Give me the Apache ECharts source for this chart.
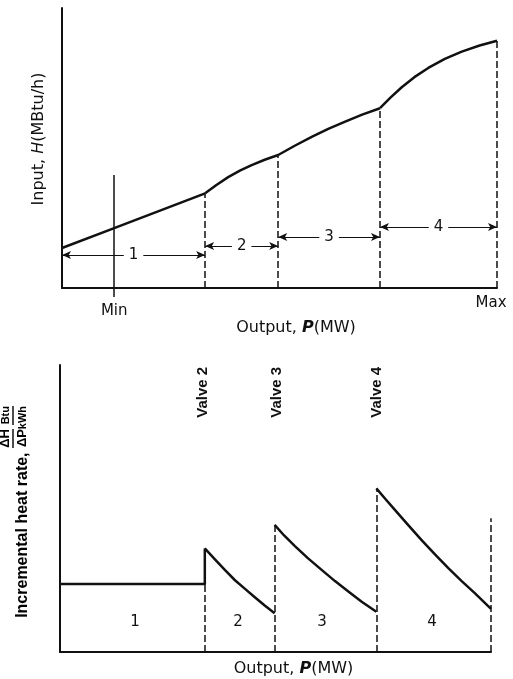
<!DOCTYPE html>
<html>
<head>
<meta charset="utf-8">
<script src="https://cdn.jsdelivr.net/npm/echarts@6/dist/echarts.min.js"></script>
<style>
  html, body { margin:0; padding:0; background:#fff; }
  #chart { width:513px; height:679px; }
</style>
</head>
<body>
<div id="chart"></div>
<script>
// ====== 上圖：輸入-輸出曲線 (P, H) ======
const topSeg1 = [[0,14.3],[12,21.4],[32.9,33.8]];
const topSeg2 = [[32.9,33.8],[35.5,36.8],[38.2,39.6],[41.0,42.0],[43.6,43.9],[46.6,45.8],[49.7,47.5]];
const topSeg3 = [[49.7,47.5],[53.5,50.8],[57.4,54.0],[61.2,56.8],[65.1,59.4],[69.0,61.9],[73.1,64.2]];
const topSeg4 = [[73.1,64.2],[75.5,68.0],[78.1,71.7],[81.0,75.3],[84.2,78.6],[88.0,81.8],[91.9,84.4],[96.0,86.6],[100,88.3]];
const topDash = [[32.9,33.8],[49.7,47.5],[73.1,64.2],[100,88.3]];
const minP = 12, minTop = 40.4;
const spanNames = ['1','2','3','4'];
const spanFrom  = [0, 32.9, 49.7, 73.1];
const spanTo    = [32.9, 49.7, 73.1, 100];
const spanLevel = [11.8, 15.0, 18.2, 21.8];

// ====== 下圖：增量熱率 ======
const botSeg1 = [[0,23.7],[33.6,23.7],[33.6,36.1]];
const botSeg2 = [[33.6,36.1],[36.0,32.2],[38.3,28.5],[40.6,25.0],[43.0,21.9],[45.2,19.1],[47.5,16.2],[49.8,13.5]];
const botSeg3 = [[49.8,44.3],[52.0,40.6],[54.5,36.9],[57.5,32.7],[60.7,28.6],[63.8,24.7],[66.9,21.1],[70.0,17.5],[73.4,14.0]];
const botSeg4 = [[73.4,57.0],[75.5,53.3],[77.7,49.5],[80.8,44.2],[83.9,39.0],[87.0,34.0],[90.1,29.2],[93.2,24.7],[96.3,20.4],[100,15.0]];
const botDash = [[33.6,23.7],[49.8,44.3],[73.4,57.0],[100,46.6]];
const valveNames = ['Valve 2','Valve 3','Valve 4'];
const valveP = [33.2, 50.3, 73.5];
const valveLevel = 90.5;
const blockNames = ['1','2','3','4'];
const blockP = [17.4, 41.3, 60.8, 86.3];
const blockLevel = 10.5;

// ====== 小工具 ======
const INK = '#111';
const FONT = 'DejaVu Sans';
const NARROW = 'Liberation Sans';

function curve(data, xi){
  return {
    type:'line', xAxisIndex:xi, yAxisIndex:xi, data,
    smooth:false, showSymbol:false, silent:true,
    lineStyle:{ color:INK, width:2.5, join:'round' }
  };
}
function dashLines(points){
  return points.map(([x,y]) => [{ coord:[x,0] }, { coord:[x,y] }]);
}

const topCurves = [topSeg1, topSeg2, topSeg3, topSeg4].map(s => curve(s, 0));
topCurves[0].markLine = {
  silent:true, symbol:'none', animation:false,
  label:{ show:false },
  lineStyle:{ color:INK, width:1.5, type:[7,3] },
  data: dashLines(topDash).concat([[
    { coord:[minP,0], lineStyle:{ type:'solid', width:1.5 } },
    { coord:[minP,minTop] }
  ]])
};
topCurves[1].markLine = {
  silent:true, animation:false,
  symbol:['arrow','arrow'], symbolSize:[6,9],
  lineStyle:{ color:INK, width:1, type:'solid' },
  label:{ show:false },
  data: spanNames.map((n,i) => [
    { coord:[spanFrom[i], spanLevel[i]] },
    { coord:[spanTo[i], spanLevel[i]] }
  ])
};

const botCurves = [botSeg1, botSeg2, botSeg3, botSeg4].map(s => curve(s, 1));
botCurves[0].markLine = {
  silent:true, symbol:'none', animation:false,
  label:{ show:false },
  lineStyle:{ color:INK, width:1.5, type:[7,3] },
  data: dashLines(botDash)
};

const labelScatter = (xi, pts, names, extra) => ({
  type:'scatter', xAxisIndex:xi, yAxisIndex:xi, silent:true, z:5,
  symbolSize:0, data:pts, itemStyle:{ opacity:1 },
  label: Object.assign({
    show:true, position:'inside', opacity:1,
    formatter: p => names[p.dataIndex],
    color:INK
  }, extra)
});

const option = {
  animation:false,
  textStyle:{ fontFamily:FONT, color:INK },
  grid:[
    { left:62, top:8, width:435, height:280 },
    { left:60, top:365, width:431, height:287 }
  ],
  xAxis:[
    {
      type:'value', gridIndex:0, min:0, max:100,
      axisLine:{ lineStyle:{ color:INK, width:2 } },
      axisTick:{ show:true, customValues:[minP], length:9, lineStyle:{ color:INK, width:1.5 } },
      axisLabel:{
        show:true, customValues:[minP,100], margin:8,
        formatter: v => v === minP ? '{mn|Min}' : '{mx|Max}',
        rich:{
          mn:{ fontFamily:FONT, fontSize:15, color:INK, padding:[8,0,0,0] },
          mx:{ fontFamily:FONT, fontSize:15, color:INK, padding:[0,12,0,0] }
        }
      },
      splitLine:{ show:false },
      name:'{n|Output, }{i|P}{n|(MW)}', nameLocation:'middle', nameGap:22,
      nameTextStyle:{
        padding:[0,0,0,33],
        rich:{
          n:{ fontFamily:FONT, fontSize:16, color:INK },
          i:{ fontFamily:FONT, fontSize:16, color:INK, fontStyle:'italic', fontWeight:'bold' }
        }
      }
    },
    {
      type:'value', gridIndex:1, min:0, max:100,
      axisLine:{ lineStyle:{ color:INK, width:2 } },
      axisTick:{ show:false }, axisLabel:{ show:false }, splitLine:{ show:false },
      name:'{n|Output, }{i|P}{n|(MW)}', nameLocation:'middle', nameGap:9,
      nameTextStyle:{
        padding:[0,0,0,36],
        rich:{
          n:{ fontFamily:FONT, fontSize:16, color:INK },
          i:{ fontFamily:FONT, fontSize:16, color:INK, fontStyle:'italic', fontWeight:'bold' }
        }
      }
    }
  ],
  yAxis:[
    {
      type:'value', gridIndex:0, min:0, max:100,
      axisLine:{ show:true, lineStyle:{ color:INK, width:2 } },
      axisTick:{ show:false }, axisLabel:{ show:false }, splitLine:{ show:false },
      name:'{n|Input, }{i|H}{n|(MBtu/h)}', nameLocation:'middle', nameGap:15, nameRotate:90,
      nameTextStyle:{
        padding:[0,0,0,18],
        rich:{
          n:{ fontFamily:FONT, fontSize:16, color:INK },
          i:{ fontFamily:FONT, fontSize:16, color:INK, fontStyle:'italic' }
        }
      }
    },
    {
      type:'value', gridIndex:1, min:0, max:100,
      axisLine:{ show:true, lineStyle:{ color:INK, width:2 } },
      axisTick:{ show:false }, axisLabel:{ show:false }, splitLine:{ show:false }
    }
  ],
  graphic:[{
    type:'text', x:15, y:406, rotation:Math.PI/2, silent:true,
    style:{
      text:'{a|ΔH}{g| }{c|Btu}\n{b1| }{g| }{b2| }\n{m|Incremental heat rate, }{a|ΔP}{g| }{c|kWh}',
      align:'right', verticalAlign:'middle',
      rich:{
        m:{ fontFamily:NARROW, fontSize:16, fontWeight:'bold', color:INK, lineHeight:16, verticalAlign:'middle' },
        a:{ fontFamily:NARROW, fontSize:13, fontWeight:'bold', color:INK, lineHeight:12, width:19, verticalAlign:'middle' },
        c:{ fontFamily:NARROW, fontSize:11, fontWeight:'bold', color:INK, lineHeight:12, width:19, verticalAlign:'middle' },
        g:{ fontSize:4, width:4, lineHeight:3 },
        b1:{ fontSize:1, width:19, height:1.5, lineHeight:3, backgroundColor:INK },
        b2:{ fontSize:1, width:19, height:1.5, lineHeight:3, backgroundColor:INK }
      }
    }
  }],
  series: topCurves.concat(botCurves).concat([
    labelScatter(0, spanNames.map((n,i) => [(spanFrom[i]+spanTo[i])/2, spanLevel[i]]), spanNames,
      { fontFamily:FONT, fontSize:15, backgroundColor:'#fff', padding:[0,5] }),
    labelScatter(1, valveP.map(p => [p, valveLevel]), valveNames,
      { rotate:90, fontFamily:NARROW, fontSize:15, fontWeight:'bold' }),
    labelScatter(1, blockP.map(p => [p, blockLevel]), blockNames,
      { fontFamily:FONT, fontSize:15 })
  ])
};

const chart = echarts.init(document.getElementById('chart'));
chart.setOption(option);
</script>
</body>
</html>
